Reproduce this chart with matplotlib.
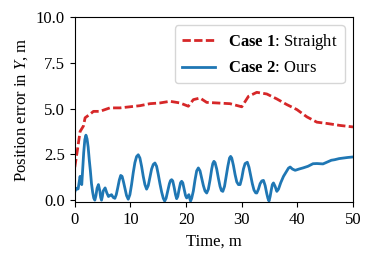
import matplotlib
matplotlib.use("Agg")
import matplotlib.pyplot as plt

# serif text (Times-like), bold/italic via mathtext in the same family
plt.rcParams['font.family'] = ['Liberation Serif', 'DejaVu Serif']
plt.rcParams['font.size'] = 12
plt.rcParams['mathtext.fontset'] = 'custom'
plt.rcParams['mathtext.rm'] = 'Liberation Serif'
plt.rcParams['mathtext.it'] = 'Liberation Serif:italic'
plt.rcParams['mathtext.bf'] = 'Liberation Serif:bold'

# Case 1: straight (red dashed)
t_straight = [0.0, 0.5, 0.95, 1.55, 1.85, 2.75, 3.35, 4.5, 6.3, 8.1, 9.9, 11.7,
              13.5, 15.3, 17.1, 18.9, 20.4, 21.3, 22.5, 23.7, 25.5, 27.9, 30.0,
              31.2, 32.7, 34.5, 36.3, 38.1, 39.9, 41.7, 43.5, 45.3, 47.7, 50.0]
err_straight = [1.8, 2.8, 3.75, 4.05, 4.5, 4.7, 4.85, 4.85, 5.04, 5.04, 5.1, 5.16,
                5.27, 5.31, 5.4, 5.31, 5.13, 5.49, 5.58, 5.34, 5.31, 5.27, 5.1,
                5.67, 5.89, 5.8, 5.53, 5.22, 4.95, 4.55, 4.26, 4.19, 4.08, 4.0]

# Case 2: ours (blue solid)
t_ours = [0.0, 0.15, 0.3, 0.45, 0.6, 0.8, 0.95, 1.1, 1.25, 1.4, 1.6, 1.8, 2.0,
          2.2, 2.4, 2.6, 2.8, 3.0, 3.2, 3.4, 3.6, 3.8, 4.0, 4.25, 4.5, 4.65,
          4.8, 4.95, 5.1, 5.45, 5.75, 6.05, 6.3, 6.6, 6.9, 7.2, 7.45, 7.7,
          8.0, 8.25, 8.5, 8.75, 9.0, 9.3, 9.6, 9.9, 10.2, 10.5, 10.8, 11.1,
          11.4, 11.7, 12.0, 12.3, 12.6, 12.9, 13.2, 13.5, 13.8, 14.1, 14.4,
          14.7, 15.0, 15.3, 15.6, 15.9, 16.15, 16.4, 16.7, 17.0, 17.2, 17.4,
          17.6, 17.85, 18.1, 18.3, 18.5, 18.75, 19.0, 19.2, 19.4, 19.65, 19.9,
          20.1, 20.3, 20.5, 20.65, 20.8, 21.0, 21.3, 21.6, 21.9, 22.2, 22.5,
          22.8, 23.1, 23.4, 23.7, 24.0, 24.3, 24.6, 24.8, 25.0, 25.2, 25.5,
          25.8, 26.1, 26.35, 26.6, 26.9, 27.2, 27.5, 27.8, 28.0, 28.2, 28.5,
          28.8, 29.1, 29.4, 29.7, 30.0, 30.3, 30.6, 31.0, 31.3, 31.6, 31.9,
          32.2, 32.5, 32.7, 33.0, 33.3, 33.6, 33.9, 34.2, 34.5, 34.7, 34.9,
          35.1, 35.3, 35.5, 35.7, 36.0, 36.3, 36.6, 37.0, 37.5, 38.0, 38.4,
          38.7, 39.1, 39.6, 40.3, 41.0, 41.9, 42.8, 43.5, 44.6, 45.5, 46.1,
          46.7, 47.5, 48.2, 49.0, 50.0]
err_ours = [0.45, 0.6, 0.65, 0.6, 0.62, 1.0, 1.3, 1.0, 0.85, 1.6, 2.6, 3.3, 3.55,
            3.35, 2.9, 2.2, 1.6, 0.9, 0.45, 0.12, 0.0, 0.25, 0.65, 0.85, 0.5, 0.15,
            0.0, 0.2, 0.5, 0.67, 0.4, 0.2, 0.25, 0.3, 0.15, 0.1, 0.3, 0.65,
            1.1, 1.35, 1.3, 1.0, 0.65, 0.25, 0.05, 0.3, 0.85, 1.5, 2.05, 2.38,
            2.48, 2.3, 1.85, 1.3, 0.85, 0.6, 0.8, 1.25, 1.7, 1.95, 2.03,
            1.85, 1.4, 0.9, 0.45, 0.1, -0.05, 0.1, 0.5, 0.9, 1.07, 1.12,
            1.05, 0.7, 0.3, 0.08, 0.2, 0.6, 0.95, 1.03, 0.95, 0.6, 0.25,
            0.12, 0.22, 0.3, 0.1, -0.05, 0.1, 0.5, 1.1, 1.6, 1.76, 1.6,
            1.2, 0.8, 0.5, 0.39, 0.6, 1.1, 1.7, 2.0, 2.12, 2.05, 1.7,
            1.2, 0.75, 0.52, 0.48, 0.75, 1.3, 1.85, 2.3, 2.39, 2.3, 1.9,
            1.4, 1.0, 0.85, 0.85, 1.2, 1.7, 2.0, 2.07, 1.8, 1.35, 0.9,
            0.55, 0.4, 0.39, 0.6, 0.9, 1.05, 1.08, 0.8, 0.35, 0.1, -0.05,
            0.2, 0.55, 0.85, 0.94, 0.75, 0.48, 0.6, 0.95, 1.3, 1.55, 1.75,
            1.81, 1.7, 1.63, 1.7, 1.76, 1.85, 1.99, 2.0, 1.98, 2.1, 2.18,
            2.21, 2.27, 2.3, 2.33, 2.36]

y_ticks = [0.0, 2.5, 5.0, 7.5, 10.0]
x_ticks = [0, 10, 20, 30, 40, 50]

fig = plt.figure(figsize=(3.74, 2.63), dpi=100)
ax = fig.add_axes([0.2, 0.232, 0.744, 0.703])

ax.plot(t_straight, err_straight, color='#d62728', linestyle='--', dashes=(3.0, 1.2),
        linewidth=2, label=r'$\mathbf{Case\ 1}$: Straight')
ax.plot(t_ours, err_ours, color='#1f77b4', linestyle='-', linewidth=2,
        label=r'$\mathbf{Case\ 2}$: Ours')

ax.set_xlim(0, 50)
ax.set_ylim(-0.1, 10)
ax.set_xticks(x_ticks)
ax.set_yticks(y_ticks)
ax.set_yticklabels([f'{v:.1f}' for v in y_ticks])
ax.set_xlabel('Time, m')
ax.set_ylabel(r'Position error in $Y$, m')
ax.legend(loc='upper right')

plt.savefig('out.png', dpi=100)
plt.close()
